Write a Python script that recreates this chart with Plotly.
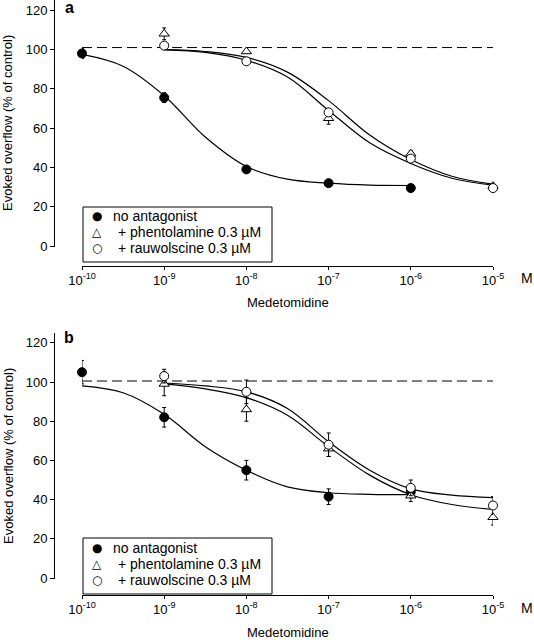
import plotly.graph_objects as go

W, H = 534, 640
FONT = "Liberation Sans, Arial, sans-serif"
GLYPH_FONT = "DejaVu Sans, Liberation Sans, sans-serif"

# ---------------- data ----------------
conc = [1e-10, 1e-9, 1e-8, 1e-7, 1e-6, 1e-5]
tick_text = ["10<sup>-10</sup>", "10<sup>-9</sup>", "10<sup>-8</sup>",
             "10<sup>-7</sup>", "10<sup>-6</sup>", "10<sup>-5</sup>"]
y_ticks = [0, 20, 40, 60, 80, 100, 120]

names = ["no antagonist", "+ phentolamine 0.3 µM", "+ rauwolscine 0.3 µM"]
legend_glyphs = ["●", "△", "○"]

# panel a : measured points
a_none_x = [1e-10, 1e-9, 1e-8, 1e-7, 1e-6]
a_none_y = [98, 75.5, 39, 32, 29.5]
a_none_e = [2.5, 2.5, 1, 1, 1]
a_phen_x = [1e-9, 1e-8, 1e-7, 1e-6, 1e-5]
a_phen_y = [108, 99, 65, 47, 30.5]
a_phen_e = [3, 1, 3, 1.5, 1]
a_rauw_x = [1e-9, 1e-8, 1e-7, 1e-6, 1e-5]
a_rauw_y = [102, 94, 68, 44.5, 29.5]
a_rauw_e = [1.5, 1, 1.5, 1.5, 1.5]

# panel a : fitted curves
fit_none_x = [1e-10, 3.16e-10, 1e-9, 3.16e-9, 1e-8, 3.16e-8, 1e-7, 3.16e-7, 1e-6]
fit_ant_x = [1e-9, 3.16e-9, 1e-8, 3.16e-8, 1e-7, 3.16e-7, 1e-6, 3.16e-6, 1e-5]
a_fit_none = [97.5, 91.5, 76.5, 55.5, 40.5, 34, 32, 31, 30.8]
a_fit_phen = [100, 99, 96, 88.5, 74, 56.5, 44, 35.5, 31.5]
a_fit_rauw = [99.8, 98.5, 94.5, 86, 69, 52.5, 42, 34.5, 31]

# panel b : measured points
b_none_x = [1e-10, 1e-9, 1e-8, 1e-7, 1e-6]
b_none_y = [105, 82, 55, 41.5, 44]
b_none_e = [6, 5, 5, 4, 3]
b_phen_x = [1e-9, 1e-8, 1e-7, 1e-6, 1e-5]
b_phen_y = [99, 86, 66, 42, 31]
b_phen_e = [6, 6, 4, 3, 4]
b_rauw_x = [1e-9, 1e-8, 1e-7, 1e-6, 1e-5]
b_rauw_y = [103, 95, 68, 46, 37]
b_rauw_e = [3.5, 6, 6, 4, 4.5]

# panel b : fitted curves
b_fit_none = [98, 94.5, 83.5, 67, 55, 46.5, 43.5, 42.7, 42.5]
b_fit_phen = [99, 96.5, 92, 83, 67, 52.5, 42.5, 37.5, 35]
b_fit_rauw = [99.5, 98, 95, 86.5, 69.5, 55, 45.5, 42.3, 41]

# control reference (100 %)
ref_x = [1e-10, 1e-5]
a_ref_y = [101, 101]
b_ref_y = [100.5, 100.5]

# ---------------- helpers ----------------
def px(x):
    return x / W

def py(y):
    return 1 - y / H

fig = go.Figure()

def add_panel(xa, ya, ref_y, fits, pts):
    fig.add_trace(go.Scatter(x=ref_x, y=ref_y, mode="lines", xaxis=xa, yaxis=ya,
                             line=dict(color="black", width=1, dash="10px,5px"),
                             showlegend=False, hoverinfo="skip", cliponaxis=False))
    for fx, fy in fits:
        fig.add_trace(go.Scatter(x=fx, y=fy, mode="lines", xaxis=xa, yaxis=ya,
                                 line=dict(color="black", width=1.2, shape="spline"),
                                 showlegend=False, hoverinfo="skip", cliponaxis=False))
    styles = [
        dict(symbol="circle", size=9, color="black", line=dict(color="black", width=1)),
        dict(symbol="triangle-up", size=9, color="white", line=dict(color="black", width=1)),
        dict(symbol="circle", size=9, color="white", line=dict(color="black", width=1)),
    ]
    for (x, y, e), st, nm in zip(pts, styles, names):
        fig.add_trace(go.Scatter(x=x, y=y, mode="markers", xaxis=xa, yaxis=ya, name=nm,
                                 marker=st, showlegend=False, cliponaxis=False,
                                 error_y=dict(type="data", array=e, color="black",
                                              thickness=1, width=2)))

add_panel("x", "y", a_ref_y,
          [(fit_none_x, a_fit_none), (fit_ant_x, a_fit_phen), (fit_ant_x, a_fit_rauw)],
          [(a_none_x, a_none_y, a_none_e), (a_phen_x, a_phen_y, a_phen_e),
           (a_rauw_x, a_rauw_y, a_rauw_e)])
add_panel("x2", "y2", b_ref_y,
          [(fit_none_x, b_fit_none), (fit_ant_x, b_fit_phen), (fit_ant_x, b_fit_rauw)],
          [(b_none_x, b_none_y, b_none_e), (b_phen_x, b_phen_y, b_phen_e),
           (b_rauw_x, b_rauw_y, b_rauw_e)])

def xaxis(pos_px):
    return dict(domain=[px(82), px(493)], type="log", range=[-10, -5], anchor="free",
                position=py(pos_px), showline=True, linecolor="black", linewidth=1,
                ticks="outside", ticklen=3, tickcolor="black", tickvals=conc,
                ticktext=tick_text, tickfont=dict(size=13, color="black", family=FONT),
                ticklabelstandoff=-1,
                showgrid=False, zeroline=False)

def yaxis(top_px, bot_px, rng):
    return dict(domain=[py(bot_px), py(top_px)], range=rng, anchor="free",
                position=px(54), showline=True, linecolor="black", linewidth=1,
                ticks="outside", ticklen=4, tickcolor="black", tickvals=y_ticks,
                tickfont=dict(size=13, color="black", family=FONT),
                showgrid=False, zeroline=False)

fig.update_layout(
    width=W, height=H, margin=dict(l=0, r=0, t=0, b=0, autoexpand=False),
    paper_bgcolor="white", plot_bgcolor="white",
    font=dict(family=FONT, color="black"),
    xaxis=xaxis(266), yaxis=yaxis(0, 247, [-0.5, 125.2]),
    xaxis2=xaxis(595), yaxis2=yaxis(333, 579, [-0.5, 125]),
    showlegend=False,
)

ann = []

def A(text, x, y, size=13, xanchor="center", yanchor="middle", family=FONT, **kw):
    ann.append(dict(text=text, x=px(x), y=py(y), xref="paper", yref="paper",
                    showarrow=False, xanchor=xanchor, yanchor=yanchor,
                    font=dict(size=size, family=family, color="black"), **kw))

panels = [
    dict(lab="a", lab_y=8, tick_y=278, title_y=302, ycen=123, box=(207, 262),
         rows=[216, 232, 248]),
    dict(lab="b", lab_y=337, tick_y=608, title_y=632, ycen=456, box=(538, 594),
         rows=[548, 564, 580]),
]
for p in panels:
    A("<b>%s</b>" % p["lab"], 69, p["lab_y"], size=16)
    A("M", 527, p["tick_y"], size=14)
    A("Medetomidine", 288, p["title_y"], size=13)
    A("Evoked overflow (% of control)", 8, p["ycen"], size=13, textangle=-90)
    top, bot = p["box"]
    fig.add_shape(type="rect", xref="paper", yref="paper",
                  x0=px(83), x1=px(272), y0=py(bot), y1=py(top),
                  line=dict(color="black", width=1), fillcolor="rgba(0,0,0,0)")
    for i, (g, nm, ry) in enumerate(zip(legend_glyphs, names, p["rows"])):
        A(g, 97, ry, size=12, family=GLYPH_FONT)
        A(nm, 111 if i == 0 else 116, ry, size=14, xanchor="left")

fig.update_layout(annotations=ann)

fig.write_html("out.html", config={"displayModeBar": False},
               post_script="document.body.style.margin='0';")
